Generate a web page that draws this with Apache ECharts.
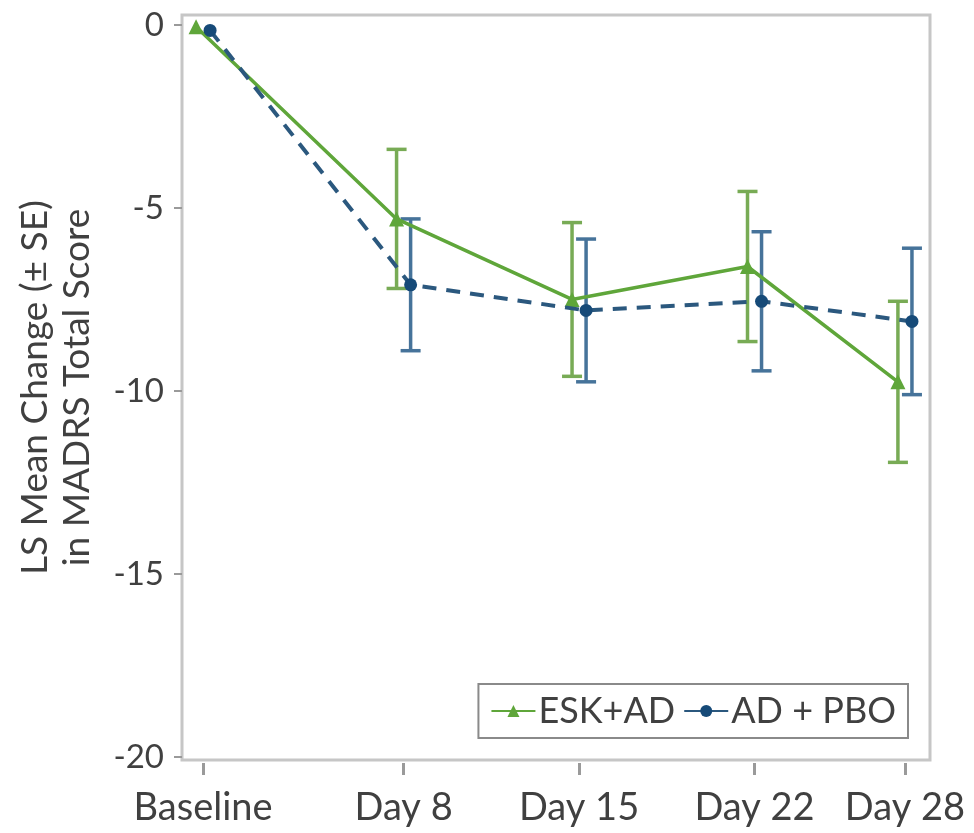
<!DOCTYPE html>
<html>
<head>
<meta charset="utf-8">
<script src="https://cdn.jsdelivr.net/npm/echarts@6/dist/echarts.min.js"></script>
<style>
  html, body { margin: 0; padding: 0; background: #fff; }
  #chart { width: 974px; height: 833px; }
</style>
</head>
<body>
<div id="chart"></div>
<script>
// Visit days and their axis labels
const dayTicks = [0, 8, 15, 22, 28];
const tickLabels = ['Baseline', 'Day 8', 'Day 15', 'Day 22', 'Day 28'];
const yTicks = [0, -5, -10, -15, -20];

// LS mean change from baseline and standard errors
const eskMean = [-0.05, -5.3, -7.5, -6.6, -9.75];
const eskSE   = [0, 1.9, 2.1, 2.05, 2.2];
const pboMean = [-0.15, -7.1, -7.8, -7.55, -8.1];
const pboSE   = [0, 1.8, 1.95, 1.9, 2.0];

// small horizontal dodge so the two groups' bars don't overlap
const DODGE = 0.28;

const GREEN = '#5fa63a';
const GREEN_BAR = '#78ab55';
const BLUE = '#164a78';
const BLUE_LINE = '#2b587e';
const BLUE_BAR = '#46739a';
const TEXT = '#404040';
const FONT = 'Lato';

function points(mean, shift) {
  return dayTicks.map((d, i) => [d + shift, mean[i]]);
}
function bars(mean, se, shift) {
  const out = [];
  dayTicks.forEach((d, i) => {
    if (se[i] > 0) out.push([d + shift, mean[i] - se[i], mean[i] + se[i]]);
  });
  return out;
}

function errorBarSeries(data, color) {
  return {
    type: 'custom',
    data: data,
    z: 1,
    silent: true,
    renderItem: function (params, api) {
      const x = api.value(0);
      const top = api.coord([x, api.value(2)]);
      const bot = api.coord([x, api.value(1)]);
      const hw = 10;
      const style = { stroke: color, lineWidth: 3.5 };
      return {
        type: 'group',
        children: [
          { type: 'line', shape: { x1: top[0], y1: top[1], x2: bot[0], y2: bot[1] }, style: style },
          { type: 'line', shape: { x1: top[0] - hw, y1: top[1], x2: top[0] + hw, y2: top[1] }, style: style },
          { type: 'line', shape: { x1: bot[0] - hw, y1: bot[1], x2: bot[0] + hw, y2: bot[1] }, style: style }
        ]
      };
    },
    encode: { x: 0, y: [1, 2] }
  };
}

const chart = echarts.init(document.getElementById('chart'), null, { renderer: 'canvas' });

chart.setOption({
  animation: false,
  backgroundColor: '#fff',
  textStyle: { fontFamily: FONT },
  grid: {
    left: 182, right: 44, top: 15, bottom: 73,
    outerBoundsMode: 'none',
    containLabel: false,
    show: true, borderColor: '#c6c6c6', borderWidth: 3, backgroundColor: '#fff'
  },
  xAxis: {
    type: 'value',
    min: -0.84,
    max: 29.0,
    offset: 3,
    splitLine: { show: false },
    axisLine: { show: false, onZero: false },
    axisTick: { show: true, length: 12, lineStyle: { color: '#9a9a9a', width: 3 }, customValues: dayTicks },
    axisLabel: {
      customValues: dayTicks,
      margin: 26,
      color: TEXT,
      fontSize: 38,
      fontFamily: FONT,
      formatter: function (v) {
        const i = dayTicks.indexOf(Math.round(v));
        return i >= 0 ? tickLabels[i] : '';
      }
    }
  },
  yAxis: {
    type: 'value',
    min: -20.08,
    max: 0.27,
    splitLine: { show: false },
    axisLine: { show: false, onZero: false },
    axisTick: { show: true, length: 8, lineStyle: { color: '#9a9a9a', width: 2 }, customValues: yTicks },
    axisLabel: {
      customValues: yTicks,
      margin: 18,
      color: TEXT,
      fontSize: 33,
      fontFamily: FONT
    },
    name: 'LS Mean Change (± SE)\nin MADRS Total Score',
    nameLocation: 'middle',
    nameGap: 84,
    nameRotate: 90,
    nameTextStyle: { color: TEXT, fontSize: 37, lineHeight: 42, fontFamily: FONT }
  },
  legend: {
    right: 66,
    bottom: 95,
    orient: 'horizontal',
    backgroundColor: '#fff',
    borderColor: '#8a8a8a',
    borderWidth: 2,
    borderRadius: 0,
    padding: [9, 12, 9, 12],
    itemGap: 8,
    itemWidth: 44,
    itemHeight: 15,
    textStyle: { color: TEXT, fontSize: 36, fontFamily: FONT, padding: [0, 0, 0, -2] },
    data: [
      { name: 'ESK+AD' },
      { name: 'AD + PBO', lineStyle: { type: 'solid' } }
    ]
  },
  series: [
    errorBarSeries(bars(eskMean, eskSE, -DODGE), GREEN_BAR),
    errorBarSeries(bars(pboMean, pboSE, DODGE), BLUE_BAR),
    {
      name: 'ESK+AD',
      type: 'line',
      data: points(eskMean, -DODGE),
      z: 3,
      symbol: 'triangle',
      symbolSize: 15,
      itemStyle: { color: GREEN },
      lineStyle: { color: GREEN, width: 3.5 }
    },
    {
      name: 'AD + PBO',
      type: 'line',
      data: points(pboMean, DODGE),
      z: 4,
      symbol: 'circle',
      symbolSize: 13,
      itemStyle: { color: BLUE },
      lineStyle: { color: BLUE_LINE, width: 4, type: [14, 10] }
    }
  ]
});
</script>
</body>
</html>
